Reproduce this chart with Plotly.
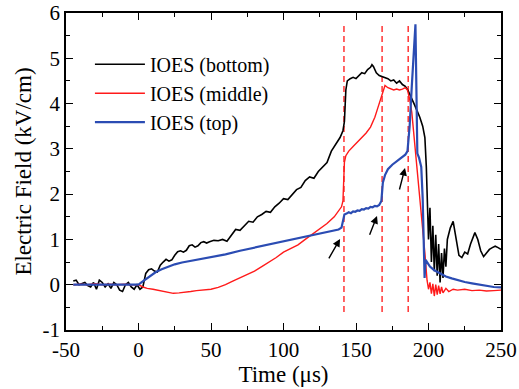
import plotly.graph_objects as go

# ---------------- data ----------------
bottom_t = [-45,-43,-41,-39,-37,-35,-33,-31,-29,-27,-25,-23,-21,-19,-17,-15,-13,-11,-9,-7,-5,-3,-1,1,3,
            5,7,9,11,13,15,17,19,21,23,25,27,29,31,33,35,37,39,41,43,45,47,49,52,55,58,61,64,67,70,73,
            76,79,82,85,88,91,94,97,100,103,106,109,112,115,118,121,124,127,130,133,136,139,141,142,143,
            144,146,148,150,152,154,156,158,160,161,162,164,166,168,170,172,174,176,178,180,182,184,186,
            188,190,192,194,196,197.5,198.5,199,200,201,202,203,204,205,206,207,208,209,210,211,212,213,
            215,217,219,221,223,225,227,229,232,234,236,238,240,242,244,246,248,250]
bottom_E = [0.08,0.1,0.0,0.02,0.05,-0.02,-0.05,0.05,-0.1,0.1,0.05,-0.05,0.02,-0.08,0.05,0.0,-0.12,-0.15,0.0,0.05,-0.05,-0.1,0.0,-0.1,-0.05,
            0.25,0.33,0.35,0.3,0.28,0.43,0.5,0.56,0.52,0.55,0.65,0.73,0.75,0.72,0.76,0.86,0.88,0.83,0.86,0.93,0.95,0.92,0.95,0.98,0.97,1.0,0.96,1.1,1.22,1.2,1.3,
            1.4,1.38,1.5,1.55,1.62,1.6,1.72,1.8,1.9,1.88,2.0,2.1,2.15,2.3,2.38,2.35,2.5,2.6,2.7,2.95,3.1,3.25,3.4,3.6,4.3,
            4.5,4.55,4.58,4.55,4.62,4.68,4.66,4.75,4.8,4.86,4.82,4.68,4.62,4.6,4.58,4.55,4.5,4.52,4.45,4.5,4.42,4.38,4.28,
            4.15,4.0,3.85,3.7,3.5,3.25,2.6,1.8,1.0,1.7,0.5,1.3,0.3,1.1,0.2,0.9,0.05,0.7,0.15,0.8,0.4,1.0,
            1.25,1.4,1.05,0.65,0.6,0.72,0.68,0.9,1.15,1.0,0.75,0.62,0.7,0.78,0.82,0.85,0.82,0.78]

middle_t = [-45,-40,-35,-30,-25,-20,-15,-10,-5,0,3,6,10,15,20,24,28,32,36,40,45,50,55,60,65,70,75,80,85,90,95,
            100,105,110,115,120,125,130,135,138,140,141,141.5,142,143,145,148,151,154,157,160,163,165,167,168,
            169,170,172,174,176,178,180,182,184,185.5,187,188.5,190,192,194,196,197.5,199,200,201,202,203,204,
            205,206,207,208,209,210,212,214,217,220,225,230,235,240,245,250]
middle_E = [0.0,0.01,0.0,0.02,0.0,0.01,0.0,0.01,0.0,0.0,-0.05,-0.08,-0.1,-0.13,-0.17,-0.19,-0.18,-0.17,-0.15,-0.13,-0.12,-0.1,-0.06,0.0,0.08,0.15,0.22,0.3,0.4,0.5,0.6,
            0.72,0.8,0.88,1.0,1.12,1.22,1.35,1.5,1.62,1.72,1.85,2.3,2.7,2.85,2.95,3.05,3.15,3.25,3.35,3.48,3.7,3.9,4.1,4.25,
            4.35,4.4,4.35,4.32,4.3,4.32,4.3,4.32,4.35,4.3,4.1,3.8,3.3,2.6,1.85,1.2,0.7,0.1,-0.1,0.05,-0.2,0.02,-0.25,
            0.0,-0.22,-0.02,-0.2,-0.05,-0.18,-0.08,-0.15,-0.1,-0.12,-0.1,-0.13,-0.12,-0.14,-0.13,-0.12]

top_t = [-45,-30,-15,0,2,5,8,12,16,20,25,30,35,40,50,60,70,80,90,100,110,120,130,138,140,141,142,
         143.5,145,146.5,148,149.5,151,152.5,154,155.5,157,158.5,160,161.5,163,164.5,166,167.5,168.5,170,172,175,178,181,184,185.5,187,188.5,190,191,191.8,192.3,193.5,195,
         196,196.8,197.3,198,199,201,204,208,212,216,220,225,230,235,240,245,250]
top_E = [0.0,0.0,0.0,0.0,0.05,0.12,0.2,0.28,0.34,0.39,0.45,0.49,0.52,0.55,0.61,0.67,0.75,0.82,0.9,0.96,1.03,1.1,1.17,1.22,1.26,1.45,1.55,
         1.57,1.6,1.58,1.62,1.61,1.64,1.63,1.67,1.66,1.69,1.68,1.72,1.71,1.74,1.73,1.76,1.85,2.25,2.42,2.55,2.65,2.72,2.8,2.87,2.95,3.5,4.4,5.1,5.75,4.0,2.9,2.8,2.6,
         1.9,0.8,0.15,0.55,0.5,0.4,0.32,0.25,0.18,0.14,0.1,0.06,0.03,0.0,-0.03,-0.05,-0.06]

series_names = ["IOES (bottom)", "IOES (middle)", "IOES (top)"]
series_colors = ["#000000", "#ff1a1a", "#2b4cb3"]

event_times = [141.7, 168.0, 186.0]
event_span = [-0.6, 5.75]

# arrows: (tail_t, tail_E, head_t, head_E)
arrow_tail_t = [130.7, 159.0, 179.7]
arrow_tail_E = [0.55, 1.07, 2.07]
arrow_head_t = [139.0, 164.5, 183.8]
arrow_head_E = [1.01, 1.52, 2.58]

x_ticks = [-50, 0, 50, 100, 150, 200, 250]
x_tick_labels = ["-50", "0", "50", "100", "150", "200", "250"]
y_ticks = [-1, 0, 1, 2, 3, 4, 5, 6]
y_tick_labels = ["-1", "0", "1", "2", "3", "4", "5", "6"]

# ---------------- figure ----------------
FONT = "Times New Roman"
fig = go.Figure()

for t in event_times:
    fig.add_trace(go.Scatter(x=[t, t], y=event_span, mode="lines", showlegend=False,
                             line=dict(color="#ff3333", width=1.5, dash="6px,4px"), hoverinfo="skip"))

widths = [1.6, 1.4, 2.2]
for (tt, ee), name, col, w, g in zip([(bottom_t, bottom_E), (middle_t, middle_E), (top_t, top_E)],
                                      series_names, series_colors, widths, ["a", "b", "c"]):
    fig.add_trace(go.Scatter(x=tt, y=ee, mode="lines", name=name, legendgroup=g,
                             line=dict(color=col, width=w)))

for xt, yt, xh, yh in zip(arrow_tail_t, arrow_tail_E, arrow_head_t, arrow_head_E):
    fig.add_annotation(x=xh, y=yh, ax=xt, ay=yt, xref="x", yref="y", axref="x", ayref="y",
                       showarrow=True, arrowhead=2, arrowsize=1.1, arrowwidth=1.4, arrowcolor="black", text="")

axis_common = dict(showline=True, linecolor="black", linewidth=1.5, mirror="allticks",
                   ticks="inside", ticklen=7, tickwidth=1.3, tickcolor="black",
                   showgrid=False, zeroline=False, automargin=False,
                   tickfont=dict(family=FONT, size=21, color="black"))

fig.update_xaxes(range=[-50, 250], tickvals=x_ticks, ticktext=x_tick_labels,
                 minor=dict(ticks="inside", ticklen=4, dtick=25, tick0=-50, tickcolor="black", tickwidth=1.2),
                 title=dict(text="Time (μs)", font=dict(family=FONT, size=23, color="black"), standoff=4),
                 **axis_common)
fig.update_yaxes(range=[-1, 6], tickvals=y_ticks, ticktext=y_tick_labels,
                 minor=dict(ticks="inside", ticklen=4, dtick=0.5, tick0=-1, tickcolor="black", tickwidth=1.2),
                 title=dict(text="Electric Field (kV/cm)", font=dict(family=FONT, size=23, color="black"), standoff=4),
                 **axis_common)

fig.update_layout(width=519, height=389, margin=dict(l=66, r=18, t=13, b=59),
                  font=dict(family=FONT, color="black"),
                  paper_bgcolor="white", plot_bgcolor="white",
                  legend=dict(x=0.055, y=0.9, xanchor="left", yanchor="top", bgcolor="rgba(0,0,0,0)",
                              font=dict(family=FONT, size=20, color="black"), tracegroupgap=0,
                              itemwidth=50),
                  showlegend=True)

fig.write_html("out.html")
